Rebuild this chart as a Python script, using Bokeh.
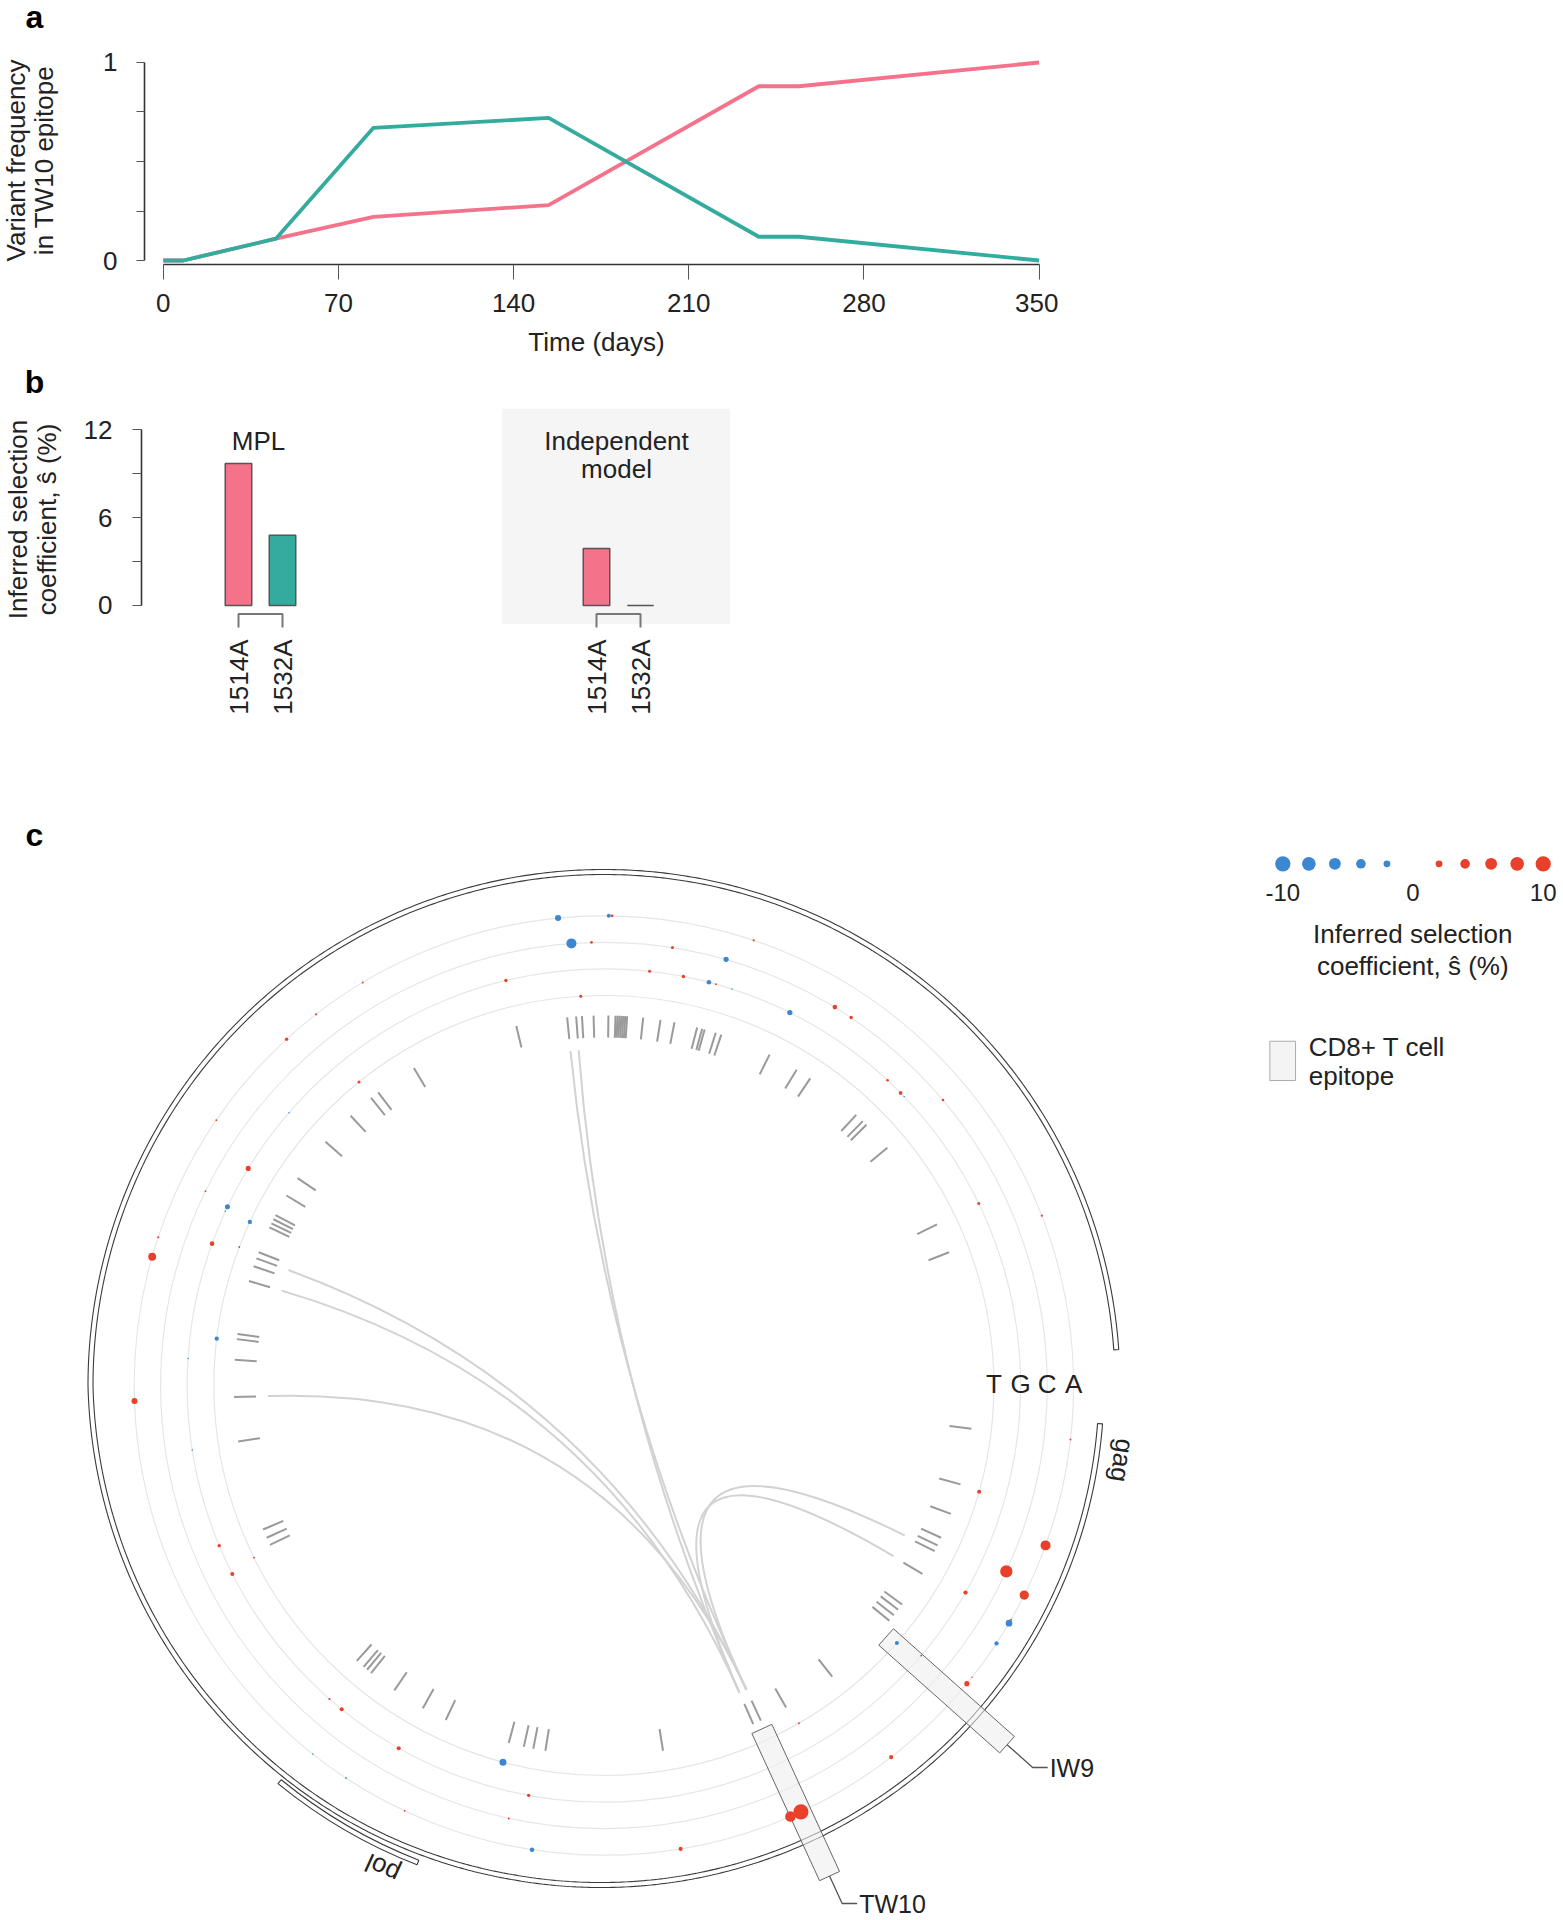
import numpy as np
from bokeh.plotting import figure
from bokeh.models import FixedTicker, Range1d, Title
from bokeh.embed import file_html
from bokeh.resources import INLINE
from bokeh.core.properties import value

FONT = "Liberation Sans"
TXT = "#222222"
PINK = "#F4728A"
TEAL = "#33AC9E"
RED = "#E8402B"
BLUE = "#3B87D1"

# ---------------- data ----------------
# panel a
time_days = [0, 8, 45, 84, 154, 238, 254, 350]
freq_1514A = [0.0, 0.0, 0.11, 0.22, 0.28, 0.88, 0.88, 1.0]
freq_1532A = [0.0, 0.0, 0.11, 0.67, 0.72, 0.12, 0.12, 0.0]
time_ticks = [0, 70, 140, 210, 280, 350]

# panel b
variant_labels = ["1514A", "1532A"]
model_labels = ["MPL", "Independent\nmodel"]
s_mpl = [9.7, 4.8]
s_independent = [3.9, 0.0]

# panel c
nucleotides = ["T", "G", "C", "A"]
site_angle = [95.6, 89.4, 89.0, 94.2, 91.6, 81.1, 71.4, 74.0, 103.6, 83.7, 79.0, 75.4, 74.4, 72.1,
              93.4, 63.5, 58.6, 56.1, 47.1, 44.6, 43.9, 40.1, 25.9, 21.2, 120.9, 127.8, 132.5,
              128.9, 139.1, 145.6, 148.6, 154.0, 154.6, 155.3, 155.2, 161.6, 164.1, 160.1, 159.2,
              173.1, 176.3, 181.9, 188.9, 202.6, 206.9, 206.2, 228.8, 231.0, 240.5, 231.7, 236.7,
              244.9, 255.0, 259.6, 257.6, 261.2, 279.4, -60.0, -52.3, -65.2, -66.6, -6.6, -15.8,
              -24.8, -19.9, -26.5, -30.4, -29.9, -33.3, -29.8, -41.3, -40.4, -38.4, -39.4]
site_nuc = ["A", "A", "A", "C", "C", "C", "A", "C", "G", "G", "G", "G", "G", "G",
            "T", "G", "C", "C", "G", "G", "G", "C", "G", "A", "A", "A", "A",
            "T", "G", "A", "G", "C", "G", "G", "T", "A", "A", "G", "T",
            "T", "G", "A", "G", "G", "G", "T", "G", "G", "G", "A", "A",
            "A", "T", "G", "C", "A", "A", "T", "A", "A", "A", "A", "T",
            "C", "A", "A", "A", "A", "A", "G", "T", "G", "A", "A"]
site_s = [-1.6, -0.7, 0.3, -4.3, 0.3, 0.4, 0.2, -1.2, 0.5, 0.4, 0.5, -0.9, 0.15, -0.1,
          0.4, -1.2, 0.9, 0.5, 0.3, 0.6, -0.05, 0.3, 0.4, 0.2, 0.15, 0.2, 0.5,
          0.4, -0.1, 0.15, 1.1, 0.15, -1.1, -0.1, -0.8, 0.2, 2.7, 0.9, 0.15,
          -0.8, -0.1, 1.5, -0.1, 0.5, 0.7, 0.15, 0.2, 0.7, 0.7, -0.1, -0.15,
          0.15, -2.1, 0.5, 0.15, -0.9, 0.7, 0.15, 0.7, 9.7, 4.8, 0.15, 0.7,
          6.5, 4.3, 3.7, -1.9, 0.15, -0.8, 0.8, -0.7, 0.15, 0.1, 1.1]
poly_sites = [103.7, 95.7, 94.3, 93.4, 91.6, 89.3, 88.2, 87.9, 87.6, 87.3, 87.0, 86.7, 86.4,
              83.9, 81.2, 79.0, 75.4, 74.6, 74.2, 72.4, 71.5, 63.4, 58.6, 56.1, 47.0, 45.6, 44.8,
              40.0, 25.8, 21.1,
              120.9, 127.6, 129.0, 133.2, 138.8, 145.9, 149.1, 152.6, 153.3, 154.0, 154.7, 158.9,
              159.9, 161.2, 163.6, 172.0, 172.8, 176.0, 181.8, 188.7, 202.9, 204.3, 205.5, 228.1,
              229.5, 230.2, 231.0, 235.5, 240.7, 244.7, 255.1, 257.5, 259.0, 260.9, 279.2,
              -66.2, -64.9, -60.5, -51.9, -39.5, -38.4, -37.3, -36.3, -30.6, -26.6, -25.6, -24.3,
              -20.3, -15.5, -6.7]
link_from = [95.7, 94.3, 159.9, 163.6, 181.8, -26.5, -30.5]
link_to = [-64.9, -66.2, -64.9, -66.2, -64.9, -64.9, -66.2]
epitope_names = ["TW10", "IW9"]
epitope_angle = [-65.3, -41.7]
legend_s = [-10, -8, -6, -4, -2, 0, 2, 4, 6, 8, 10]
legend_ticks = ["-10", "0", "10"]


def style_axis(ax, tick_out, standoff):
    ax.axis_line_color = "#333333"
    ax.axis_line_width = 1.6
    ax.major_tick_line_color = "#555555"
    ax.minor_tick_line_color = "#555555"
    ax.major_tick_in = 0
    ax.minor_tick_in = 0
    ax.major_tick_out = tick_out
    ax.minor_tick_out = tick_out
    ax.major_label_standoff = standoff
    ax.major_label_text_font = FONT
    ax.major_label_text_font_size = "26px"
    ax.major_label_text_color = TXT
    ax.axis_label_text_font = FONT
    ax.axis_label_text_font_size = "26px"
    ax.axis_label_text_font_style = "normal"
    ax.axis_label_text_color = TXT


def letter_figure(letter, height, ypos):
    f = figure(width=1200, height=height, x_range=Range1d(0, 1200), y_range=Range1d(0, height),
               min_border=0, x_axis_location=None, y_axis_location=None, toolbar_location=None,
               output_backend="svg")
    f.grid.visible = False
    f.outline_line_color = None
    f.text(x=[34], y=[ypos], text=[letter], text_font=value(FONT), text_font_size="32px",
           text_font_style="bold", text_align="center", text_baseline="middle",
           text_color="#000000")
    return f


# ---------------- panel a ----------------
fa_letter = letter_figure("a", 40, 24)      # page y 0..40

A_X0, A_X1, A_Y0, A_Y1 = -7.51, 353.77, -0.0202, 1.0303
pa = figure(frame_width=904, frame_height=208, x_range=Range1d(A_X0, A_X1),
            y_range=Range1d(A_Y0, A_Y1), min_border_left=144, min_border_right=10,
            min_border_top=16, min_border_bottom=100, toolbar_location=None,
            output_backend="svg")        # page y 40..364
pa.grid.visible = False
pa.outline_line_color = None
pa.line(time_days, freq_1514A, line_color=PINK, line_width=3.8)
pa.line(time_days, freq_1532A, line_color=TEAL, line_width=3.8)

style_axis(pa.xaxis, 15, 14)
pa.xaxis.ticker = FixedTicker(ticks=time_ticks)
pa.xaxis.bounds = (0, 350)
pa.xaxis.axis_label = "Time (days)"
pa.xaxis.axis_label_standoff = 12
style_axis(pa.yaxis, 8, 19)
pa.yaxis.ticker = FixedTicker(ticks=[0, 1], minor_ticks=[0.25, 0.5, 0.75])
pa.yaxis.bounds = (0, 1)
pa.yaxis.major_label_orientation = "horizontal"
pa.yaxis.axis_label = "in TW10 epitope"
pa.yaxis.axis_label_standoff = 41
pa.add_layout(Title(text="Variant frequency", align="center", standoff=-8.5, text_font=FONT,
                    text_font_size="26px", text_font_style="normal", text_color=TXT), "left")

# ---------------- panel b ----------------
fb_letter = letter_figure("b", 40, 22.4)    # page y 364..404

B_OY, B_T, B_FH = 404, 4, 222
B_Y0, B_Y1 = -1.708, 13.455


def b_y(py):
    return B_Y1 - (py - B_OY - B_T) * (B_Y1 - B_Y0) / B_FH


pb = figure(frame_width=619, frame_height=B_FH, x_range=Range1d(141, 760),
            y_range=Range1d(B_Y0, B_Y1), min_border_left=141, min_border_right=10,
            min_border_top=B_T, min_border_bottom=100, toolbar_location=None,
            output_backend="svg")        # page y 404..730
pb.grid.visible = False
pb.outline_line_color = None

group_x = [260, 618]
offs = [-22, 22]
pb.quad(left=[501.5], right=[729.6], bottom=[b_y(623.3)], top=[B_Y1],
        fill_color="#f5f5f5", line_color=None)
bar_x, bar_top, bar_col = [], [], []
for g, vals in enumerate([s_mpl, s_independent]):
    for k, v in enumerate(vals):
        bar_x.append(group_x[g] + offs[k])
        bar_top.append(v)
        bar_col.append([PINK, TEAL][k])
pb.vbar(x=bar_x, width=26.5, bottom=0, top=bar_top, fill_color=bar_col,
        line_color="#555555", line_width=1.5)
for g in range(2):
    x0, x1 = group_x[g] + offs[0], group_x[g] + offs[1]
    pb.line([x0, x0, x1, x1], [b_y(627), b_y(613.5), b_y(613.5), b_y(627)],
            line_color="#777777", line_width=2)
for g, name in enumerate(model_labels):
    for li, part in enumerate(name.split("\n")):
        pb.text(x=[group_x[g] - 2], y=[b_y(440 + 28.3 * li)], text=[part],
                text_font=value(FONT), text_font_size="26px", text_align="center",
                text_baseline="middle", text_color=TXT)

style_axis(pb.yaxis, 9, 20)
pb.yaxis.ticker = FixedTicker(ticks=[0, 6, 12], minor_ticks=[3, 9])
pb.yaxis.bounds = (0, 12)
pb.yaxis.major_label_orientation = "horizontal"
pb.yaxis.axis_label = "coefficient, \u015d (%)"
pb.yaxis.axis_label_standoff = 19
pb.add_layout(Title(text="Inferred selection", align="center", standoff=-8.5, text_font=FONT,
                    text_font_size="26px", text_font_style="normal", text_color=TXT), "left")
pb.xaxis.ticker = FixedTicker(ticks=bar_x)
pb.xaxis.major_label_overrides = {bx: variant_labels[i % 2] for i, bx in enumerate(bar_x)}
pb.xaxis.major_label_orientation = np.pi / 2
pb.xaxis.axis_line_color = None
pb.xaxis.major_tick_line_color = None
pb.xaxis.minor_tick_line_color = None
pb.xaxis.major_tick_out = 0
pb.xaxis.major_tick_in = 0
pb.xaxis.major_label_standoff = 9
pb.xaxis.major_label_text_font = FONT
pb.xaxis.major_label_text_font_size = "26px"
pb.xaxis.major_label_text_color = TXT

# ---------------- panel c ----------------
CX, CY = 603.4, 1385.0
C_TOP, C_H, C_W = 730, 1186, 1563


def cx(px):
    return px - CX


def cy(py):
    return CY - py


pc = figure(width=C_W, height=C_H, x_range=Range1d(0 - CX, C_W - CX),
            y_range=Range1d(CY - (C_TOP + C_H), CY - C_TOP), min_border=0,
            x_axis_location=None, y_axis_location=None, toolbar_location=None,
            output_backend="svg")
pc.grid.visible = False
pc.outline_line_color = None

ring_r = {"T": 390.0, "G": 416.7, "C": 443.3, "A": 469.7}
for n in nucleotides:
    pc.circle(x=[0], y=[0], radius=ring_r[n], fill_color=None, line_color="#e6e6e6",
              line_width=1.2)

# genome band (radius grows so that start and end do not meet)
th = np.linspace(-4.4, -356.0, 900)
rmid = np.interp(-th, [4.4, 57.0, 100.0, 140.0, 180.0, 356.0],
                 [497.6, 497.8, 500.0, 505.0, 513.4, 513.6])
t = np.radians(th)
bx = np.concatenate([(rmid + 2.5) * np.cos(t), ((rmid - 2.5) * np.cos(t))[::-1]])
by = np.concatenate([(rmid + 2.5) * np.sin(t), ((rmid - 2.5) * np.sin(t))[::-1]])
pc.patch(bx, by, fill_color="white", line_color="#3a3a3a", line_width=1.1)
pc.annular_wedge(x=0, y=0, inner_radius=509.5, outer_radius=514.5,
                 start_angle=np.radians(-129.3), end_angle=np.radians(-111.3),
                 fill_color="white", line_color="#3a3a3a", line_width=1.1)

# polymorphic-site ticks
ta = np.radians(poly_sites)
pc.segment(x0=348 * np.cos(ta), y0=348 * np.sin(ta), x1=370 * np.cos(ta), y1=370 * np.sin(ta),
           line_color="#9a9a9a", line_width=2)

# links
fa, ea = np.radians(link_from), np.radians(link_to)
pc.quadratic(x0=336 * np.cos(fa), y0=336 * np.sin(fa), x1=336 * np.cos(ea), y1=336 * np.sin(ea),
             cx=np.zeros(len(fa)), cy=np.zeros(len(fa)), line_color="#d2d2d2", line_width=2)

# epitope boxes
r_in, r_out = 378.0, 540.0
for name, ang in zip(epitope_names, epitope_angle):
    a = np.radians(ang)
    rm = (r_in + r_out) / 2
    pc.rect(x=[rm * np.cos(a)], y=[rm * np.sin(a)], width=r_out - r_in, height=22,
            angle=a, fill_color="#eeeeee", fill_alpha=0.6, line_color="#666666", line_width=1)

# leader lines and labels
lead = {"TW10": 1903.0, "IW9": 1767.0}
for name, ang in zip(epitope_names, epitope_angle):
    a = np.radians(ang)
    yend = cy(lead[name])
    r2 = yend / np.sin(a)
    x1, y1 = r_out * np.cos(a), r_out * np.sin(a)
    x2 = r2 * np.cos(a)
    x3 = x2 + 15
    pc.line([x1, x2, x3], [y1, yend, yend], line_color="#555555", line_width=1.3)
    pc.text(x=[x3 + 2], y=[yend], text=[name], text_font=value(FONT), text_font_size="25px",
            text_align="left", text_baseline="middle", text_color=TXT)

# dots
sa = np.radians(site_angle)
sr = np.array([ring_r[n] for n in site_nuc])
sv = np.array(site_s)
sizes = np.maximum(4.84 * np.sqrt(np.abs(sv)), 1.5)
order = np.argsort(sizes)
pc.scatter(x=(sr * np.cos(sa))[order], y=(sr * np.sin(sa))[order], size=sizes[order],
           fill_color=[RED if v > 0 else BLUE for v in sv[order]], line_color=None)

# nucleotide ring labels
for n in nucleotides:
    pc.text(x=[ring_r[n]], y=[cy(1383)], text=[n], text_font=value(FONT), text_font_size="26px",
            text_align="center", text_baseline="middle", text_color=TXT)

# gene labels
for name, px, py, rot in [("gag", 1121.7, 1460, -98.2), ("pol", 382, 1868, 155.4)]:
    pc.text(x=[cx(px)], y=[cy(py)], text=[name], angle=np.radians(rot), text_font=value(FONT),
            text_font_size="26px", text_align="center", text_baseline="middle", text_color=TXT)

# legend
lx = [cx(1282.3 + 26.04 * i) for i in range(len(legend_s))]
ls = np.array(legend_s, dtype=float)
pc.scatter(x=lx, y=[cy(863.3)] * len(lx), size=4.84 * np.sqrt(np.abs(ls)),
           fill_color=[RED if v > 0 else BLUE for v in ls], line_color=None)
for lbl, i in zip(legend_ticks, [0, 5, 10]):
    pc.text(x=[lx[i]], y=[cy(891.7)], text=[lbl], text_font=value(FONT), text_font_size="24px",
            text_align="center", text_baseline="middle", text_color=TXT)
for py, t in [(933.3, "Inferred selection"), (965, "coefficient, \u015d (%)")]:
    pc.text(x=[cx(1412.3)], y=[cy(py)], text=[t], text_font=value(FONT), text_font_size="26px",
            text_align="center", text_baseline="middle", text_color=TXT)
pc.rect(x=[cx(1282.2)], y=[cy(1060.4)], width=25.7, height=39.3, fill_color="#f4f4f4",
        line_color="#aaaaaa", line_width=1)
for py, t in [(1046.7, "CD8+ T cell"), (1075, "epitope")]:
    pc.text(x=[cx(1308.3)], y=[cy(py)], text=[t], text_font=value(FONT), text_font_size="26px",
            text_align="left", text_baseline="middle", text_color=TXT)
pc.text(x=[cx(34)], y=[cy(834.6)], text=["c"], text_font=value(FONT), text_font_size="32px",
        text_font_style="bold", text_align="center", text_baseline="middle", text_color="#000000")

open("out.html", "w").write(file_html([fa_letter, pa, fb_letter, pb, pc], INLINE))
